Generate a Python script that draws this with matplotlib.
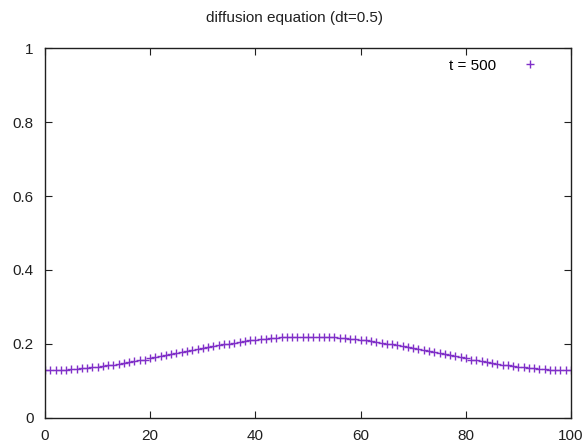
import matplotlib.pyplot as plt

# grid positions and concentration at t = 500
x = list(range(101))
u_half = [0.130, 0.130, 0.130, 0.131, 0.131, 0.132, 0.133, 0.134, 0.136, 0.137,
          0.139, 0.140, 0.142, 0.144, 0.146, 0.149, 0.151, 0.153, 0.156, 0.158,
          0.161, 0.164, 0.167, 0.169, 0.172, 0.175, 0.178, 0.181, 0.183, 0.186,
          0.189, 0.192, 0.194, 0.197, 0.199, 0.201, 0.204, 0.206, 0.208, 0.210,
          0.211, 0.213, 0.214, 0.216, 0.217, 0.218, 0.219, 0.219, 0.220, 0.220,
          0.220]
u = u_half + [0.220, 0.220, 0.219, 0.219, 0.218, 0.217, 0.216, 0.214, 0.213, 0.211,
              0.210, 0.208, 0.206, 0.204, 0.201, 0.199, 0.197, 0.194, 0.192, 0.189,
              0.186, 0.183, 0.181, 0.178, 0.175, 0.172, 0.169, 0.167, 0.164, 0.161,
              0.158, 0.156, 0.153, 0.151, 0.149, 0.146, 0.144, 0.142, 0.140, 0.139,
              0.137, 0.136, 0.134, 0.133, 0.132, 0.131, 0.131, 0.130, 0.130, 0.130]
label = 't = 500'
xticks = [0, 20, 40, 60, 80, 100]
yticks = [0, 0.2, 0.4, 0.6, 0.8, 1]
yticklabels = ['0', '0.2', '0.4', '0.6', '0.8', '1']

plt.rcParams['font.family'] = ['Liberation Sans', 'DejaVu Sans']

fig = plt.figure(figsize=(5.88, 4.47), dpi=100)
ax = fig.add_axes([0.0765, 0.0649, 0.8946, 0.8277])

ax.plot(x, u, '+', color='#8030c8', markersize=6, markeredgewidth=1.0, label=label)

ax.set_xlim(0, 100)
ax.set_ylim(0, 1)
ax.set_xticks(xticks)
ax.set_yticks(yticks)
ax.set_yticklabels(yticklabels)
ax.tick_params(direction='in', top=True, right=True, length=5, width=0.8,
               labelsize=11, pad=8, colors='#202020')
for s in ax.spines.values():
    s.set_linewidth(1.0)
    s.set_color('#202020')

fig.suptitle('diffusion equation (dt=0.5)', y=0.975, fontsize=11, color='#202020')

ax.legend(loc='upper right', frameon=False, markerfirst=False, fontsize=11,
          handlelength=1.5, handletextpad=1.5, borderaxespad=0.3,
          bbox_to_anchor=(0.965, 1.0))

fig.savefig('out.png', dpi=100)
